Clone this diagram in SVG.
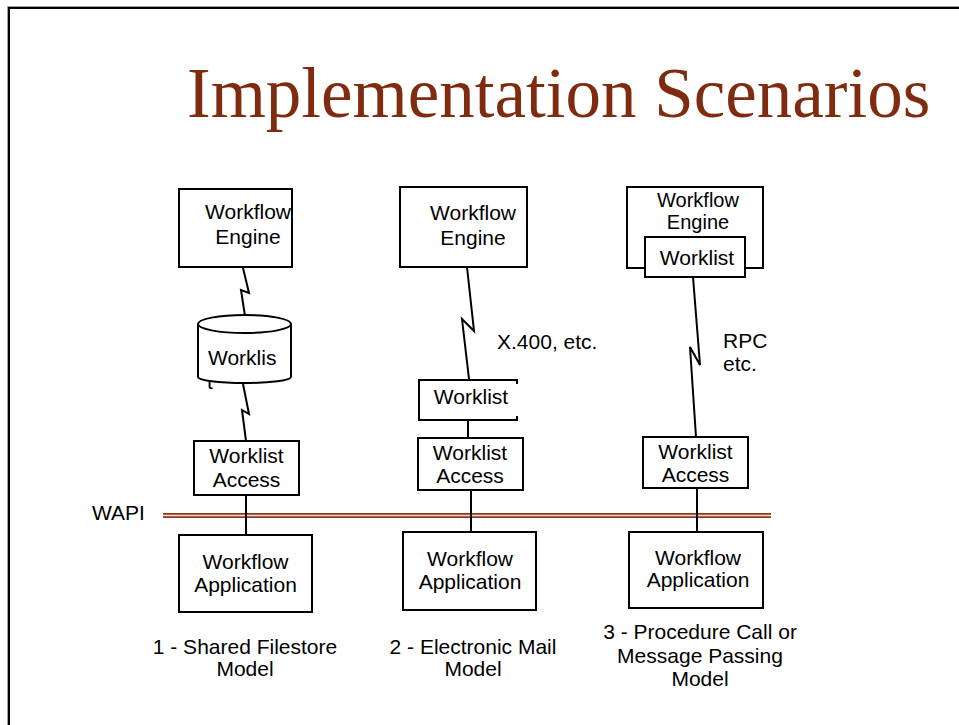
<svg xmlns="http://www.w3.org/2000/svg" width="959" height="725" viewBox="0 0 959 725">
  <style>
    .box { fill: #ffffff; stroke: #000000; stroke-width: 2; }
    .open { fill: none; stroke: #000000; stroke-width: 2; }
    .wire { fill: none; stroke: #000000; stroke-width: 2; stroke-linejoin: miter; }
    .lbl { font-family: "Liberation Sans", Arial, sans-serif; font-size: 21px; fill: #000000; }
    .tight { font-size: 20px; }
    .mid { text-anchor: middle; }
    .title { font-family: "Liberation Serif", "Times New Roman", serif; font-size: 71px; fill: #7f2b0f; }
  </style>

  <!-- slide frame -->
  <rect x="0" y="0" width="959" height="725" fill="#ffffff"/>
  <g id="frame">
    <line x1="7.5" y1="6.5" x2="7.5" y2="725" stroke="#a0a0a0" stroke-width="1"/>
    <line x1="7" y1="6.5" x2="959" y2="6.5" stroke="#a0a0a0" stroke-width="1"/>
    <line x1="9" y1="8" x2="9" y2="725" stroke="#000000" stroke-width="2"/>
    <line x1="8" y1="8" x2="959" y2="8" stroke="#000000" stroke-width="2"/>
  </g>

  <text class="title" x="187" y="117">Implementation Scenarios</text>

  <!-- WAPI boundary -->
  <g id="wapi">
    <line x1="163" y1="515.5" x2="771" y2="515.5" stroke="#8c3b1c" stroke-width="5"/>
    <line x1="163" y1="515.5" x2="771" y2="515.5" stroke="#f3ddd3" stroke-width="1.4"/>
    <text class="lbl" x="92" y="520">WAPI</text>
  </g>

  <!-- connectors -->
  <g id="connectors">
    <path class="wire" d="M243,268 L249,293 L241,290 L245,316"/>
    <path class="wire" d="M243,384 L249,414 L242,410 L246,441"/>
    <line class="wire" x1="246" y1="495" x2="246" y2="535"/>

    <path class="wire" d="M467,267 L474,331 L462,319 L469,379"/>
    <line class="wire" x1="468" y1="420" x2="468" y2="438"/>
    <line class="wire" x1="471" y1="490" x2="471" y2="532"/>

    <path class="wire" d="M693,277 L700,365 L690,347 L696,437"/>
    <line class="wire" x1="697" y1="488" x2="697" y2="532"/>
  </g>

  <!-- column 1: shared filestore -->
  <g id="engine1">
    <rect class="box" x="179" y="189" width="113" height="78"/>
    <text class="lbl mid" x="248" y="219">Workflow</text>
    <text class="lbl mid" x="248" y="244">Engine</text>
  </g>
  <g id="store1">
    <text class="lbl" x="207" y="389">t</text>
    <path class="box" d="M198,324 V377 A46.5,6 0 0 0 291,377 V324 Z"/>
    <ellipse class="box" cx="244.5" cy="324" rx="46.5" ry="9"/>
    <text class="lbl" x="208" y="365">Worklis</text>
  </g>
  <g id="access1">
    <rect class="box" x="194" y="441" width="105" height="54"/>
    <text class="lbl mid" x="246.5" y="463">Worklist</text>
    <text class="lbl mid" x="246.5" y="487">Access</text>
  </g>
  <g id="app1">
    <rect class="box" x="179" y="535" width="133" height="77"/>
    <text class="lbl mid" x="245.5" y="569">Workflow</text>
    <text class="lbl mid" x="245.5" y="592">Application</text>
  </g>
  <g id="caption1">
    <text class="lbl mid" x="245" y="654">1 - Shared Filestore</text>
    <text class="lbl mid" x="245" y="676">Model</text>
  </g>

  <!-- column 2: electronic mail -->
  <g id="engine2">
    <rect class="box" x="400" y="187" width="127" height="80"/>
    <text class="lbl mid" x="473" y="220">Workflow</text>
    <text class="lbl mid" x="473" y="245">Engine</text>
  </g>
  <text class="lbl" x="497" y="349">X.400, etc.</text>
  <g id="worklist2">
    <path class="open" d="M517,384 V380 H419 V420 H517 V416"/>
    <text class="lbl mid" x="471" y="404">Worklist</text>
  </g>
  <g id="access2">
    <rect class="box" x="418" y="438" width="105" height="52"/>
    <text class="lbl mid" x="470" y="460">Worklist</text>
    <text class="lbl mid" x="470" y="483">Access</text>
  </g>
  <g id="app2">
    <rect class="box" x="403" y="532" width="133" height="78"/>
    <text class="lbl mid" x="470" y="566">Workflow</text>
    <text class="lbl mid" x="470" y="589">Application</text>
  </g>
  <g id="caption2">
    <text class="lbl mid" x="473" y="654">2 - Electronic Mail</text>
    <text class="lbl mid" x="473" y="676">Model</text>
  </g>

  <!-- column 3: procedure call / message passing -->
  <g id="engine3">
    <rect class="box" x="627" y="187" width="136" height="81"/>
    <text class="lbl tight mid" x="698" y="207">Workflow</text>
    <text class="lbl tight mid" x="698" y="229">Engine</text>
  </g>
  <g id="worklist3">
    <rect class="box" x="645" y="237" width="100" height="40"/>
    <text class="lbl mid" x="697" y="265">Worklist</text>
  </g>
  <text class="lbl" x="723" y="348">RPC</text>
  <text class="lbl" x="723" y="371">etc.</text>
  <g id="access3">
    <rect class="box" x="643" y="437" width="105" height="51"/>
    <text class="lbl mid" x="695.5" y="459">Worklist</text>
    <text class="lbl mid" x="695.5" y="482">Access</text>
  </g>
  <g id="app3">
    <rect class="box" x="629" y="532" width="134" height="76"/>
    <text class="lbl mid" x="698" y="565">Workflow</text>
    <text class="lbl mid" x="698" y="587">Application</text>
  </g>
  <g id="caption3">
    <text class="lbl mid" x="700" y="639">3 - Procedure Call or</text>
    <text class="lbl mid" x="700" y="663">Message Passing</text>
    <text class="lbl mid" x="700" y="686">Model</text>
  </g>
</svg>
